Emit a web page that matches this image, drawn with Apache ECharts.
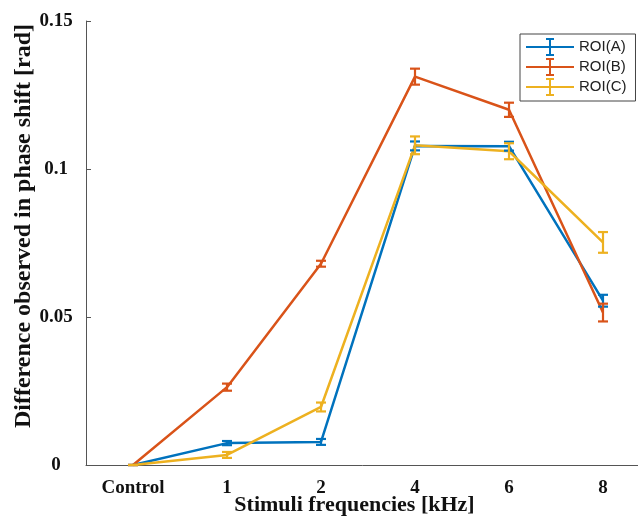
<!DOCTYPE html>
<html>
<head>
<meta charset="utf-8">
<script src="https://cdn.jsdelivr.net/npm/echarts@6/dist/echarts.min.js"></script>
<style>
html, body { margin: 0; padding: 0; background: #fff; }
#chart { width: 638px; height: 524px; }
</style>
</head>
<body>
<div id="chart"></div>
<script>
const categories = ['Control', '1', '2', '4', '6', '8'];
const yTicks = [0, 0.05, 0.1, 0.15];

const roiA = [0, 0.0074, 0.0078, 0.1078, 0.1077, 0.0555];
const roiAErr = [0, 0.0007, 0.0010, 0.0015, 0.0015, 0.0020];
const roiB = [0, 0.0263, 0.0680, 0.1312, 0.1200, 0.0515];
const roiBErr = [0, 0.0012, 0.0010, 0.0027, 0.0024, 0.0030];
const roiC = [0, 0.0034, 0.0196, 0.1080, 0.1060, 0.0752];
const roiCErr = [0, 0.0010, 0.0015, 0.0030, 0.0027, 0.0035];

const names = ['ROI(A)', 'ROI(B)', 'ROI(C)'];
const colors = ['#0072BD', '#D95319', '#EDB120'];
const means = [roiA, roiB, roiC];
const errs = [roiAErr, roiBErr, roiCErr];

// line + I-beam icon for the legend
const legendIcon = 'path://M0,9 L48,9 L48,11 L0,11 Z M23,2 L25,2 L25,18 L23,18 Z M20,1 L28,1 L28,3 L20,3 Z M20,17 L28,17 L28,19 L20,19 Z';

function errorBarItem(color) {
    return function(params, api) {
        const idx = api.value(0);
        const low = api.coord([idx, api.value(1)]);
        const high = api.coord([idx, api.value(2)]);
        const cap = 5;
        const style = { stroke: color, lineWidth: 2.2 };
        return {
            type: 'group',
            children: [
                { type: 'line', shape: { x1: low[0], y1: low[1], x2: high[0], y2: high[1] }, style: style },
                { type: 'line', shape: { x1: low[0] - cap, y1: low[1], x2: low[0] + cap, y2: low[1] }, style: style },
                { type: 'line', shape: { x1: high[0] - cap, y1: high[1], x2: high[0] + cap, y2: high[1] }, style: style }
            ]
        };
    };
}

const series = [];
names.forEach(function(name, i) {
    series.push({
        name: name,
        type: 'line',
        data: means[i],
        symbol: 'none',
        lineStyle: { color: colors[i], width: 2.5 },
        itemStyle: { color: colors[i] },
        z: 3
    });
});
names.forEach(function(name, i) {
    series.push({
        name: name,
        type: 'custom',
        renderItem: errorBarItem(colors[i]),
        data: means[i].map(function(v, k) { return [k, v - errs[i][k], v + errs[i][k]]; }),
        encode: { x: 0, y: [1, 2] },
        z: 4,
        silent: true
    });
});

const myChart = echarts.init(document.getElementById('chart'));
const option = {
    animation: false,
    backgroundColor: '#fff',
    grid: { left: 86, top: 21, width: 564, height: 444, outerBoundsMode: 'none', containLabel: false },
    legend: {
        data: names.map(function(n, i) { return { name: n, icon: legendIcon, itemStyle: { color: colors[i] } }; }),
        orient: 'vertical',
        left: 520,
        top: 34,
        itemWidth: 48,
        itemHeight: 20,
        itemGap: 2,
        padding: [4, 9, 5, 6],
        borderColor: '#444',
        borderWidth: 1,
        backgroundColor: '#fff',
        textStyle: { fontFamily: 'Liberation Sans', fontSize: 15, color: '#222' },
        selectedMode: false
    },
    xAxis: {
        type: 'category',
        data: categories,
        boundaryGap: true,
        name: 'Stimuli frequencies [kHz]',
        nameLocation: 'middle',
        nameGap: 29,
        nameMoveOverlap: false,
        nameTextStyle: { fontFamily: 'Liberation Serif', fontWeight: 'bold', fontSize: 22, color: '#111', padding: [0, 27, 0, 0] },
        axisLine: { lineStyle: { color: '#555', width: 1 } },
        axisTick: { inside: true, alignWithLabel: true, length: 5, lineStyle: { color: '#555' } },
        axisLabel: { margin: 14, fontFamily: 'Liberation Serif', fontWeight: 'bold', fontSize: 19, color: '#111' },
        splitLine: { show: false }
    },
    yAxis: {
        type: 'value',
        min: yTicks[0],
        max: yTicks[yTicks.length - 1],
        interval: yTicks[1] - yTicks[0],
        name: 'Difference observed in phase shift [rad]',
        nameLocation: 'middle',
        nameGap: 50,
        nameMoveOverlap: false,
        nameTextStyle: { fontFamily: 'Liberation Serif', fontWeight: 'bold', fontSize: 24, color: '#111', padding: [0, 0, 0, 34] },
        axisLine: { show: true, lineStyle: { color: '#555', width: 1 } },
        axisTick: { show: true, inside: true, length: 5, lineStyle: { color: '#555' } },
        axisLabel: { margin: 30, align: 'center', fontFamily: 'Liberation Serif', fontWeight: 'bold', fontSize: 19, color: '#111' },
        splitLine: { show: false }
    },
    series: series
};
myChart.setOption(option);
</script>
</body>
</html>
